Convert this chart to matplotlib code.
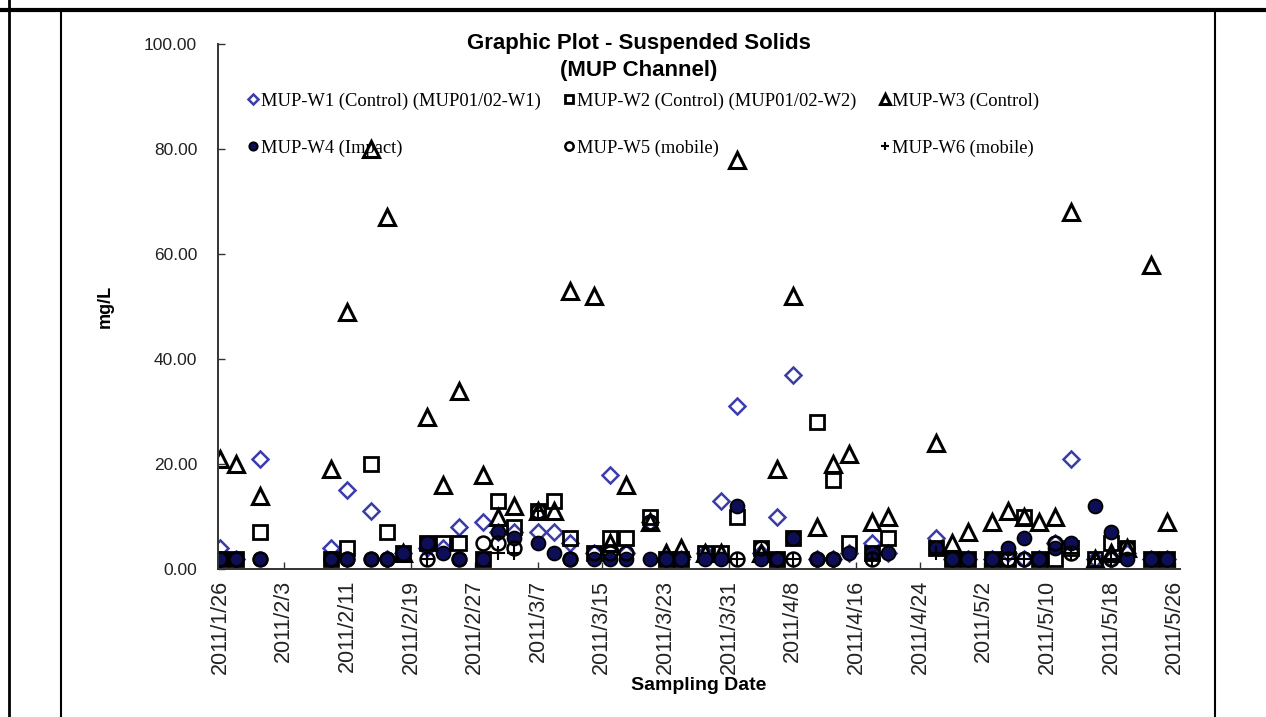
import numpy as np
import pandas as pd
import matplotlib
matplotlib.use("Agg")
import matplotlib.pyplot as plt
from matplotlib.lines import Line2D

dates = ["2011-01-26", "2011-01-28", "2011-01-31", "2011-02-09", "2011-02-11", "2011-02-14",
         "2011-02-16", "2011-02-18", "2011-02-21", "2011-02-23", "2011-02-25", "2011-02-28",
         "2011-03-02", "2011-03-04", "2011-03-07", "2011-03-09", "2011-03-11", "2011-03-14",
         "2011-03-16", "2011-03-18", "2011-03-21", "2011-03-23", "2011-03-25", "2011-03-28",
         "2011-03-30", "2011-04-01", "2011-04-04", "2011-04-06", "2011-04-08", "2011-04-11",
         "2011-04-13", "2011-04-15", "2011-04-18", "2011-04-20", "2011-04-26", "2011-04-28",
         "2011-04-30", "2011-05-03", "2011-05-05", "2011-05-07", "2011-05-09", "2011-05-11",
         "2011-05-13", "2011-05-16", "2011-05-18", "2011-05-20", "2011-05-23", "2011-05-25"]
n = None
w1 = [4, 2, 21, 4, 15, 11, 2, 3, 4, 4, 8, 9,
      7, 7, 7, 7, 5, 3, 18, 3, 9, 2, 2, 3,
      13, 31, 3, 10, 37, 2, 2, 3, 5, 3, 6, 2,
      2, 2, 3, 2, 2, 5, 21, 2, 2, 3, 2, 2]
w2 = [2, 2, 7, 2, 4, 20, 7, 3, 5, 5, 5, 2,
      13, 8, 11, 13, 6, 3, 6, 6, 10, 2, 2, 3,
      3, 10, 4, 2, 6, 28, 17, 5, 3, 6, 4, 2,
      2, 2, 2, 10, 2, 2, 4, 2, 5, 4, 2, 2]
w3 = [21, 20, 14, 19, 49, 80, 67, 3, 29, 16, 34, 18,
      10, 12, 11, 11, 53, 52, 5, 16, 9, 3, 4, 3,
      3, 78, 3, 19, 52, 8, 20, 22, 9, 10, 24, 5,
      7, 9, 11, 10, 9, 10, 68, 2, 3, 4, 58, 9]
w4 = [2, 2, 2, 2, 2, 2, 2, 3, 5, 3, 2, 2,
      7, 6, 5, 3, 2, 2, 2, 2, 2, 2, 2, 2,
      2, 12, 2, 2, 6, 2, 2, 3, 3, 3, 4, 2,
      2, 2, 4, 6, 2, 4, 5, 12, 7, 2, 2, 2]
w5 = [2, 2, 2, 2, 2, 2, 2, n, 2, n, 2, 5,
      5, 4, 11, n, 2, 3, 3, 3, 9, n, n, n,
      n, 2, 4, 2, 2, 2, 2, n, 2, n, n, n,
      n, n, 2, 2, n, 5, 3, n, 2, 4, n, n]
w6 = [n, n, n, n, n, n, n, n, 2, n, n, n,
      3, 3, 11, n, n, n, n, n, n, n, n, n,
      n, 2, n, n, 2, n, n, n, 2, n, 3, n,
      n, n, 2, 2, n, n, 3, 2, 2, n, n, n]

labels = ["MUP-W1 (Control) (MUP01/02-W1)", "MUP-W2 (Control) (MUP01/02-W2)",
          "MUP-W3 (Control)", "MUP-W4 (Impact)", "MUP-W5 (mobile)", "MUP-W6 (mobile)"]

x = pd.to_datetime(dates)
def arr(v):
    return np.array([np.nan if a is None else a for a in v], dtype=float)

fig = plt.figure(figsize=(12.66, 7.17), dpi=100)
ax = fig.add_axes([218 / 1266, 1 - 569 / 717, 962 / 1266, 525 / 717])

navy = "#0e0e56"
blue = "#3c3ca8"
ax.plot(x, arr(w1), ls="none", marker="D", ms=8.5, mfc="white", mec=blue, mew=1.8, label=labels[0])
ax.plot(x, arr(w2), ls="none", marker="s", ms=10.5, mfc="none", mec="black", mew=2.0, label=labels[1])
ax.plot(x, arr(w3), ls="none", marker="^", ms=11, mfc="none", mec="black", mew=2.2, label=labels[2])
ax.plot(x, arr(w4), ls="none", marker="o", ms=10, mfc=navy, mec="black", mew=1.3, label=labels[3])
ax.plot(x, arr(w5), ls="none", marker="o", ms=10, mfc="none", mec="black", mew=1.8, label=labels[4])
ax.plot(x, arr(w6), ls="none", marker="+", ms=10, mec="black", mew=1.5, label=labels[5])

ax.set_ylim(0, 100)
ax.set_yticks(np.arange(0, 101, 20))
ax.set_yticklabels([f"{v:.2f}" for v in range(0, 101, 20)], fontfamily="Liberation Sans",
                   fontsize=12.5, color="#222222")
ticks = pd.date_range("2011-01-26", "2011-05-26", freq="8D")
ax.set_xticks(ticks)
ax.set_xticklabels([f"{d.year}/{d.month}/{d.day}" for d in ticks], rotation=90,
                   fontfamily="Liberation Sans", fontsize=15.5, color="#222222")
ax.set_xlim(pd.Timestamp("2011-01-25 18:00"), pd.Timestamp("2011-05-26 16:00"))
ax.tick_params(axis="both", direction="in", length=5, width=1, color="#333333")
ax.tick_params(axis="x", pad=8)
ax.tick_params(axis="y", pad=15)
for s in ["top", "right"]:
    ax.spines[s].set_visible(False)
for s in ["left", "bottom"]:
    ax.spines[s].set_linewidth(1.4)
    ax.spines[s].set_color("#333333")

ax.set_ylabel("mg/L", fontfamily="Liberation Sans", fontweight="bold", fontsize=13, labelpad=22)
ax.set_xlabel("Sampling Date", fontfamily="Liberation Sans", fontweight="bold", fontsize=14, labelpad=2)
fig.text(639 / 1266, 1 - 33 / 717, "Graphic Plot - Suspended Solids\n(MUP Channel)",
         ha="center", va="top", fontfamily="Liberation Sans", fontweight="bold", fontsize=16,
         linespacing=1.35)

h, l = ax.get_legend_handles_labels()
order = [0, 3, 1, 4, 2, 5]
leg = fig.legend([h[i] for i in order], [l[i] for i in order], ncol=3, loc="upper left",
                 bbox_to_anchor=(232 / 1266, 1 - 76 / 717), frameon=False, markerscale=0.6,
                 handlelength=0.5, handletextpad=0.15, labelspacing=1.6, columnspacing=1.3,
                 prop={"family": "Liberation Serif", "size": 13.3})

# table borders of the host document
lines = [((0, 1266), (707, 707), 3.0), ((9, 9), (0, 717), 2.0),
         ((61, 61), (0, 707), 1.5), ((1215, 1215), (0, 707), 1.5)]
for xs, ys, w in lines:
    fig.add_artist(Line2D([xs[0] / 1266, xs[1] / 1266], [ys[0] / 717, ys[1] / 717],
                          transform=fig.transFigure, color="black", lw=w))

fig.savefig("out.png", dpi=100)
